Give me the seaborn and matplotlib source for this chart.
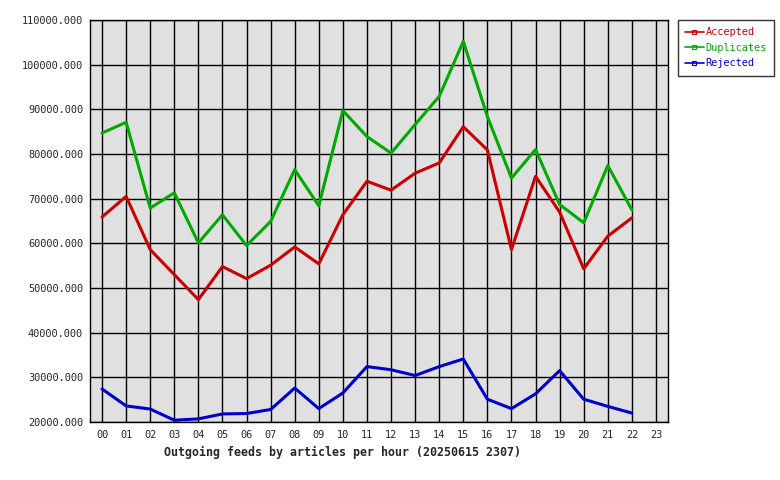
import pandas as pd
import matplotlib
matplotlib.use('Agg')
import matplotlib.pyplot as plt
from matplotlib.lines import Line2D
import seaborn as sns

hours = ["%02d" % h for h in range(24)]

accepted = [65900, 70500, 58600, 53000, 47400, 54800, 52100, 55100, 59200, 55400,
            66400, 73900, 71900, 75700, 78000, 86100, 80900, 58600, 75000, 67000,
            54300, 61600, 65700]
duplicates = [84700, 87100, 67900, 71300, 60100, 66400, 59500, 64900, 76500, 68400,
              89700, 83900, 80200, 86600, 92900, 105200, 88400, 74600, 81000, 68700,
              64600, 77400, 67500]
rejected = [27400, 23600, 22900, 20400, 20700, 21800, 21900, 22800, 27600, 23000,
            26500, 32400, 31700, 30400, 32400, 34100, 25100, 23000, 26300, 31500,
            25100, 23500, 22000]

series = ["Accepted", "Duplicates", "Rejected"]
colors = {"Accepted": "#cc0000", "Duplicates": "#00aa00", "Rejected": "#0000cc"}

rows = []
for name, vals in zip(series, [accepted, duplicates, rejected]):
    for h, v in enumerate(vals):
        rows.append({"hour": h, "value": v, "series": name})
df = pd.DataFrame(rows)

sns.set_style("white")
plt.rcParams['font.family'] = ['DejaVu Sans Mono']

fig = plt.figure(figsize=(7.8, 4.8), dpi=100)
ax = fig.add_axes([90/780, 58/480, 578/780, 402/480])
ax.set_facecolor('#e0e0e0')

sns.lineplot(data=df, x="hour", y="value", hue="series", palette=colors,
             linewidth=2.2, ax=ax, legend=False)

ax.set_xlim(-0.5, 23.5)
ax.set_ylim(20000, 110000)
ax.set_xticks(range(24))
ax.set_xticklabels(hours)
ax.set_yticks(range(20000, 110001, 10000))
ax.set_yticklabels(["%d.000" % v for v in range(20000, 110001, 10000)])
ax.grid(True, color='black', linewidth=1.0)
ax.set_axisbelow(True)
for s in ax.spines.values():
    s.set_color('black')
    s.set_linewidth(1.0)
ax.tick_params(axis='y', length=3, width=1, color='black', labelsize=7.4, pad=2)
ax.tick_params(axis='x', length=0, labelsize=7.4, pad=6)
ax.set_xlabel("")
ax.set_ylabel("")

fig.text(343/780, 1 - 452/480, "Outgoing feeds by articles per hour (20250615 2307)",
         ha='center', va='center', fontsize=8.4, fontweight='bold')

handles = [Line2D([0], [0], color=colors[n], linewidth=1.2, marker='s',
                  markersize=3, markerfacecolor='none', markeredgewidth=0.8)
           for n in series]
leg = fig.legend(handles, series, loc='upper left',
                 bbox_to_anchor=(678/780, 1 - 20/480), borderaxespad=0,
                 frameon=True, fontsize=7.4, handlelength=1.8,
                 handletextpad=0.2, borderpad=0.7,
                 labelspacing=0.55, fancybox=False, labelcolor='linecolor')
leg.get_frame().set_edgecolor('black')
leg.get_frame().set_linewidth(1.0)

fig.savefig("out.png", dpi=100)
